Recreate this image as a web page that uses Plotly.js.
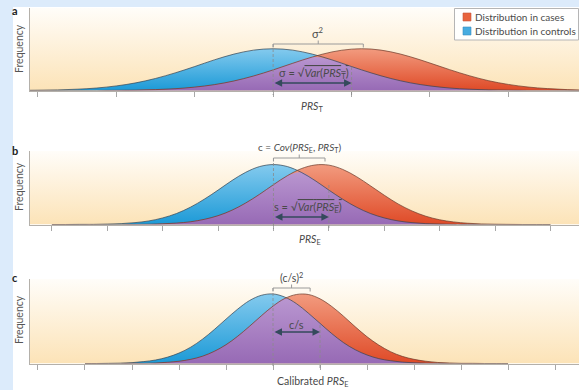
<!DOCTYPE html>
<html><head><meta charset="utf-8">
<script src="https://cdn.plot.ly/plotly-3.0.1.min.js"></script>
<style>html,body{margin:0;padding:0;background:#fff}#chart{width:579px;height:390px}</style>
</head><body><div id="chart"></div>
<script>
// ---- data (x in tick units, y = relative frequency) ----
const xGrid = [-4,-3.75,-3.5,-3.25,-3,-2.75,-2.5,-2.25,-2,-1.75,-1.5,-1.25,-1,-0.75,-0.5,-0.25,0,0.25,0.5,0.75,1,1.25,1.5,1.75,2,2.25,2.5,2.75,3,3.25,3.5,3.75,4,4.25,4.5,4.75,5];
const controlsA = [0,0,0.001,0.001,0.003,0.006,0.013,0.025,0.046,0.077,0.121,0.177,0.241,0.308,0.366,0.406,0.42,0.406,0.366,0.308,0.241,0.177,0.121,0.077,0.046,0.025,0.013,0.006,0.003,0.001,0.001,0,0,0,0,0,0];
const casesA    = [0,0,0,0,0,0,0,0.001,0.002,0.004,0.009,0.018,0.034,0.059,0.096,0.146,0.207,0.274,0.337,0.388,0.416,0.417,0.389,0.339,0.276,0.210,0.149,0.098,0.061,0.035,0.019,0.009,0.004,0.002,0.001,0,0];
const controlsB = [0,0,0.001,0.001,0.003,0.006,0.013,0.025,0.046,0.077,0.121,0.177,0.241,0.308,0.366,0.406,0.42,0.406,0.366,0.308,0.241,0.177,0.121,0.077,0.046,0.025,0.013,0.006,0.003,0.001,0.001,0,0,0,0,0,0];
const casesB    = [0,0,0,0,0,0,0.001,0.002,0.005,0.010,0.019,0.036,0.062,0.100,0.151,0.212,0.279,0.342,0.391,0.417,0.416,0.386,0.335,0.271,0.205,0.144,0.095,0.058,0.033,0.018,0.009,0.004,0.002,0.001,0,0,0];
const controlsC = [0,0,0.001,0.002,0.005,0.011,0.020,0.036,0.060,0.094,0.140,0.195,0.255,0.313,0.362,0.392,0.400,0.382,0.344,0.290,0.231,0.172,0.120,0.079,0.049,0.028,0.016,0.008,0.004,0.002,0.001,0,0,0,0,0,0];
const casesC    = [0,0,0,0,0.001,0.001,0.003,0.007,0.013,0.024,0.042,0.070,0.108,0.157,0.214,0.274,0.330,0.374,0.397,0.397,0.372,0.328,0.272,0.211,0.154,0.106,0.068,0.041,0.024,0.013,0.006,0.003,0.001,0.001,0,0,0];
const panelLetters = ['a','b','c'];
const axisTitles = ['<i>PRS</i><sub>T</sub>', '<i>PRS</i><sub>E</sub>', 'Calibrated <i>PRS</i><sub>E</sub>'];
const yTitle = 'Frequency';
const topLabels = ['σ<sup>2</sup>', 'c = <i>Cov</i>(<i>PRS</i><sub>E</sub>, <i>PRS</i><sub>T</sub>)', '(c/s)<sup>2</sup>'];
const midLabels = ['σ = √<span style="text-decoration:overline"><i>Var</i>(<i>PRS</i><sub>T</sub>)</span>',
                   's = √<span style="text-decoration:overline"><i>Var</i>(<i>PRS</i><sub>E</sub>)</span>',
                   'c/s'];
const bracketEnds = [1.15, 0.93, 0.79];   // x extent of the top brackets
const arrowEnds = [1, 1, 1];              // x extent of the double arrows
const legendLabels = ['Distribution in cases', 'Distribution in controls'];
const controls = [controlsA, controlsB, controlsC];
const cases = [casesA, casesB, casesC];

// ---- layout geometry (pixels) ----
const W = 579, H = 390;
const px = p => p / W, py = p => 1 - p / H;
const geo = [
  {top: 8,   bot: 90.5,  xr: [-3.1, 3.9],    yr: [0, 0.83],  topY: 32,  topS: 11, brY: 44,  d1Top: 67,  dBot: 95,  midX: 0.52, midY: 73,  arY: 83,  tX: 312, tY: 107, letY: 10,  fY: 49},
  {top: 151, bot: 224.5, xr: [-4.395, 5.515], yr: [0, 0.515], topY: 147, topS: 10, brY: 158, d1Top: 185, dBot: 229, midX: 0.62, midY: 207, arY: 217, tX: 310, tY: 240, letY: 151, fY: 187},
  {top: 279, bot: 363.5, xr: [-5.17, 6.51],  yr: [0, 0.486], topY: 277, topS: 10.5, brY: 288, d1Top: 325, dBot: 368, midX: 0.51, midY: 324, arY: 332, tX: 312, tY: 382, letY: 277, fY: 320}
];

const blueGrad = {type: 'vertical', colorscale: [[0, '#1c9ad7'], [1, '#84caee']]};
const redGrad = {type: 'vertical', colorscale: [[0, '#df4a27'], [1, '#f29b7f']]};
const purpGrad = {type: 'vertical', colorscale: [[0, '#976ab5'], [1, '#b996d0']]};
const txtFont = {family: 'Lato, "Open Sans", sans-serif', size: 10, color: '#4a4a4a'};
const withSize = (s, col) => Object.assign({}, txtFont, {size: s}, col ? {color: col} : {});

const traces = [];
const shapes = [
  {type: 'rect', xref: 'paper', yref: 'paper', x0: 0, x1: px(13), y0: 0, y1: 1, fillcolor: '#dcebfb', line: {width: 0}, layer: 'below'},
  {type: 'rect', xref: 'paper', yref: 'paper', x0: 0, x1: 1, y0: py(7), y1: 1, fillcolor: '#dcebfb', line: {width: 0}, layer: 'below'}
];
const annotations = [];
const images = [];
const gradSvg = 'data:image/svg+xml;charset=utf-8,' + encodeURIComponent(
  '<svg xmlns="http://www.w3.org/2000/svg" width="10" height="100" viewBox="0 0 10 100" preserveAspectRatio="none">' +
  '<defs><linearGradient id="g" x1="0" y1="0" x2="0" y2="1"><stop offset="0" stop-color="#fffdf9"/>' +
  '<stop offset="1" stop-color="#fce3b7"/></linearGradient></defs><rect width="10" height="100" fill="url(#g)"/></svg>');

const layout = {
  width: W, height: H, margin: {l: 0, r: 0, t: 0, b: 0},
  paper_bgcolor: '#ffffff', plot_bgcolor: 'rgba(0,0,0,0)', showlegend: false,
  font: txtFont
};

function label(xref, x, y, text, extra) {
  return Object.assign({xref: xref, yref: 'paper', x: x, y: y, text: text, showarrow: false,
    xanchor: 'center', yanchor: 'middle', font: txtFont}, extra || {});
}

for (let k = 0; k < 3; k++) {
  const g = geo[k];
  const xa = 'x' + (k ? k + 1 : ''), ya = 'y' + (k ? k + 1 : '');
  const xKey = 'xaxis' + (k ? k + 1 : ''), yKey = 'yaxis' + (k ? k + 1 : '');
  layout[xKey] = {domain: [px(30), 1], range: g.xr, anchor: ya, showline: true, linecolor: '#b4b0aa', linewidth: 1,
    ticks: 'outside', ticklen: 5, tickwidth: 1, tickcolor: '#a8a8a8', tick0: 0, dtick: 1,
    showticklabels: false, showgrid: false, zeroline: false, fixedrange: true};
  layout[yKey] = {domain: [py(g.bot), py(g.top)], range: g.yr, anchor: xa, showline: true, linecolor: '#b4b0aa', linewidth: 1,
    ticks: '', showticklabels: false, showgrid: false, zeroline: false, fixedrange: true};
  images.push({source: gradSvg, xref: 'paper', yref: 'paper', x: px(30), y: py(g.top), sizex: 1 - px(30),
    sizey: py(g.top) - py(g.bot), xanchor: 'left', yanchor: 'top', sizing: 'stretch', layer: 'below'});

  const c = controls[k], s = cases[k];
  const overlap = c.map((v, i) => Math.min(v, s[i]));
  const base = {x: xGrid, xaxis: xa, yaxis: ya, mode: 'lines', hoverinfo: 'skip', showlegend: false};
  traces.push(Object.assign({}, base, {y: c, name: legendLabels[1], fill: 'tozeroy', fillgradient: blueGrad, fillcolor: '#3aa7de', line: {width: 0, shape: 'spline'}}));
  traces.push(Object.assign({}, base, {y: s, name: legendLabels[0], fill: 'tozeroy', fillgradient: redGrad, fillcolor: '#e8603c', line: {width: 0, shape: 'spline'}}));
  traces.push(Object.assign({}, base, {y: overlap, fill: 'tozeroy', fillgradient: purpGrad, fillcolor: '#a47cc2', line: {width: 0, shape: 'spline'}}));
  traces.push(Object.assign({}, base, {y: c, line: {width: 0.8, shape: 'spline', color: 'rgba(55,70,85,0.9)'}}));
  traces.push(Object.assign({}, base, {y: s, line: {width: 0.8, shape: 'spline', color: 'rgba(110,60,45,0.9)'}}));

  // dashed guides
  shapes.push({type: 'line', xref: xa, yref: 'paper', x0: 0, x1: 0, y0: py(g.brY), y1: py(g.dBot), line: {color: '#8a8a8a', width: 0.8, dash: '3px,2px'}});
  shapes.push({type: 'line', xref: xa, yref: 'paper', x0: arrowEnds[k], x1: arrowEnds[k], y0: py(g.d1Top), y1: py(g.dBot), line: {color: '#8a8a8a', width: 0.8, dash: '3px,2px'}});
  // bracket
  const b1 = bracketEnds[k], bm = b1 / 2;
  shapes.push({type: 'path', xref: xa, yref: 'paper',
    path: `M0,${py(g.brY + 3.5)} L0,${py(g.brY)} L${b1},${py(g.brY)} L${b1},${py(g.brY + 3.5)} M${bm},${py(g.brY)} L${bm},${py(g.brY - 3.5)}`,
    line: {color: '#9a9a9a', width: 1}});
  // texts
  annotations.push(label(xa, bm, py(g.topY), topLabels[k], {font: withSize(g.topS)}));
  annotations.push(label(xa, g.midX, py(g.midY), midLabels[k], {font: withSize(11)}));
  annotations.push({xref: xa, yref: 'paper', x: arrowEnds[k], y: py(g.arY), axref: xa, ax: 0, ayref: 'pixel', ay: 0, text: '',
    showarrow: true, arrowhead: 2, arrowside: 'end+start', arrowsize: 1, arrowwidth: 1.5, arrowcolor: '#344a5c', standoff: 0, startstandoff: 0});
  annotations.push(label('paper', px(g.tX), py(g.tY), axisTitles[k], {font: withSize(10.5)}));
  annotations.push(label('paper', px(15), py(g.letY), '<b>' + panelLetters[k] + '</b>', {font: withSize(11, '#222')}));
  annotations.push(label('paper', px(19), py(g.fY), yTitle, {textangle: -90, font: withSize(10.5, '#555')}));
}

// legend box
shapes.push({type: 'rect', xref: 'paper', yref: 'paper', x0: px(454.5), x1: px(578.5), y0: py(40), y1: py(8.5), fillcolor: 'rgba(255,255,255,0.92)', line: {color: '#b5b5b5', width: 1}});
shapes.push({type: 'rect', xref: 'paper', yref: 'paper', x0: px(463), x1: px(471), y0: py(21), y1: py(13), fillcolor: '#e8643f', line: {color: '#c8553a', width: 0.6}});
shapes.push({type: 'rect', xref: 'paper', yref: 'paper', x0: px(463), x1: px(471), y0: py(35), y1: py(27), fillcolor: '#46ace0', line: {color: '#3a8fbf', width: 0.6}});
annotations.push(label('paper', px(473), py(17), legendLabels[0], {xanchor: 'left'}));
annotations.push(label('paper', px(473), py(31), legendLabels[1], {xanchor: 'left'}));

layout.shapes = shapes;
layout.annotations = annotations;
layout.images = images;
Plotly.newPlot('chart', traces, layout, {staticPlot: true, displayModeBar: false});
</script></body></html>
